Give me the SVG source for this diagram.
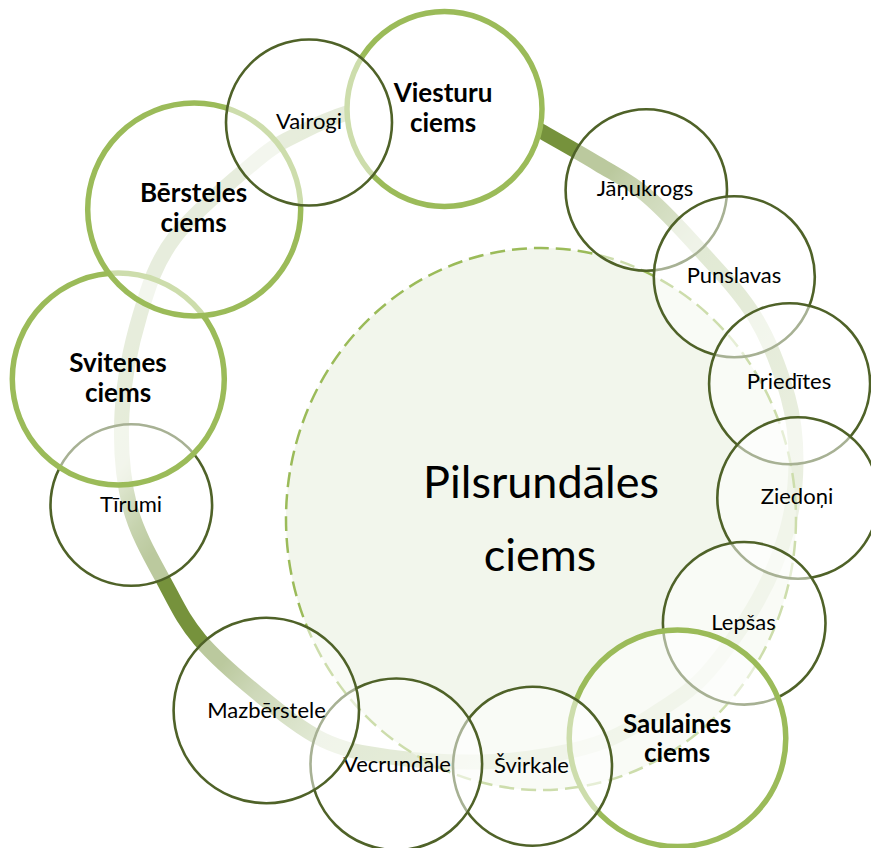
<svg xmlns="http://www.w3.org/2000/svg" width="871" height="848" viewBox="0 0 871 848">
<defs>
<linearGradient id="ringGrad" gradientUnits="userSpaceOnUse" x1="235.5" y1="186" x2="785" y2="620">
<stop offset="0" stop-color="#cfdbba"/>
<stop offset="0.12" stop-color="#cad7b0"/>
<stop offset="0.189" stop-color="#8ea75e"/>
<stop offset="0.234" stop-color="#76923c"/>
<stop offset="0.407" stop-color="#76923c"/>
<stop offset="0.471" stop-color="#9db274"/>
<stop offset="0.584" stop-color="#c3d3a9"/>
<stop offset="0.72" stop-color="#cbd8b3"/>
<stop offset="1" stop-color="#dbe4cb"/>
</linearGradient>
</defs>
<style>
.major{fill:#ffffff;fill-opacity:0.5;stroke:#9bbb59;stroke-width:5.5}
.minor{fill:#ffffff;fill-opacity:0.5;stroke:#4f6228;stroke-width:2.6}
.t{font-family:Lato,"Liberation Sans",sans-serif;font-size:22px;fill:#000;text-anchor:middle}
.b{font-family:Lato,"Liberation Sans",sans-serif;font-size:26px;font-weight:bold;fill:#000;text-anchor:middle}
.c{font-family:Lato,"Liberation Sans",sans-serif;font-size:45px;fill:#000;text-anchor:middle}
</style>
<rect width="871" height="848" fill="#ffffff"/>
<g id="connectors">
<path d="M539,130 C560,142 580.5,153.3 598,164 C615.5,174.7 629,180.7 646,195 C663,209.3 681.8,229.7 700,250 C718.2,270.3 740.3,292.5 755,317 C769.7,341.5 781.2,372.7 788,397 C794.8,421.3 796.2,440.8 796,463 C795.8,485.2 793.3,507.2 787,530 C780.7,552.8 771.3,576.2 758,600 C744.7,623.8 723.3,654.7 707,673 C690.7,691.3 676.7,698.8 660,710 C643.3,721.2 625.3,732.5 607,740 C588.7,747.5 571.2,751.3 550,755 C528.8,758.7 506.7,761.7 480,762 C453.3,762.3 416.2,760.7 390,757 C363.8,753.3 345.2,750.7 323,740 C300.8,729.3 277.5,709.7 257,693 C236.5,676.3 215,657.7 200,640 C185,622.3 178.7,609.2 167,587 C155.3,564.8 137.5,536 130,507 C122.5,478 120.3,445 122,413 C123.7,381 131.2,344.3 140,315 C148.8,285.7 155.5,262.8 175,237 C194.5,211.2 236.2,177.3 257,160 C277.8,142.7 285,140.8 300,133 C315,125.2 331.2,117.8 347,113" fill="none" stroke="url(#ringGrad)" stroke-width="15"/>
</g>
<g id="center">
<ellipse cx="541" cy="519" rx="255" ry="271" fill="#eaf0df" fill-opacity="0.6" stroke="#9bbb59" stroke-width="2.5" stroke-dasharray="15 7"/>
<text class="c" x="541" y="498">Pilsrundāles</text>
<text class="c" x="540" y="571">ciems</text>
</g>
<g id="viesturu">
<circle class="major" cx="444.5" cy="109" r="97.5"/>
<text class="b" x="443" y="102">Viesturu</text>
<text class="b" x="443" y="132">ciems</text>
</g>
<g id="janukrogs">
<circle class="minor" cx="646.3" cy="190" r="80.7"/>
<text class="t" x="645" y="196">Jāņukrogs</text>
</g>
<g id="punslavas">
<circle class="minor" cx="734.3" cy="276.7" r="80.5"/>
<text class="t" x="734" y="283">Punslavas</text>
</g>
<g id="priedites">
<circle class="minor" cx="789.6" cy="383.7" r="80.5"/>
<text class="t" x="789" y="389">Priedītes</text>
</g>
<g id="ziedoni">
<circle class="minor" cx="798" cy="498" r="80.7"/>
<text class="t" x="797" y="504">Ziedoņi</text>
</g>
<g id="lepsas">
<circle class="minor" cx="744.2" cy="623.3" r="81.3"/>
<text class="t" x="743.5" y="630">Lepšas</text>
</g>
<g id="saulaines">
<circle class="major" cx="677.5" cy="738.3" r="108.3"/>
<text class="b" x="677" y="733">Saulaines</text>
<text class="b" x="677" y="762">ciems</text>
</g>
<g id="svirkale">
<circle class="minor" cx="532.5" cy="766.2" r="79.5"/>
<text class="t" x="531.5" y="773">Švirkale</text>
</g>
<g id="vecrundale">
<circle class="minor" cx="396.3" cy="764.3" r="85.8"/>
<text class="t" x="397" y="772">Vecrundāle</text>
</g>
<g id="mazberstele">
<circle class="minor" cx="266.3" cy="710.5" r="92.7"/>
<text class="t" x="266.5" y="718">Mazbērstele</text>
</g>
<g id="tirumi">
<circle class="minor" cx="131.3" cy="505" r="80.8"/>
<text class="t" x="131" y="512">Tīrumi</text>
</g>
<g id="svitenes">
<circle class="major" cx="118.3" cy="379" r="106"/>
<text class="b" x="118" y="372">Svitenes</text>
<text class="b" x="118" y="402">ciems</text>
</g>
<g id="bersteles">
<circle class="major" cx="194.2" cy="209.5" r="106.5"/>
<text class="b" x="193.5" y="202">Bērsteles</text>
<text class="b" x="193.5" y="232">ciems</text>
</g>
<g id="vairogi">
<circle class="minor" cx="309" cy="122.5" r="83"/>
<text class="t" x="309" y="129">Vairogi</text>
</g>
</svg>
